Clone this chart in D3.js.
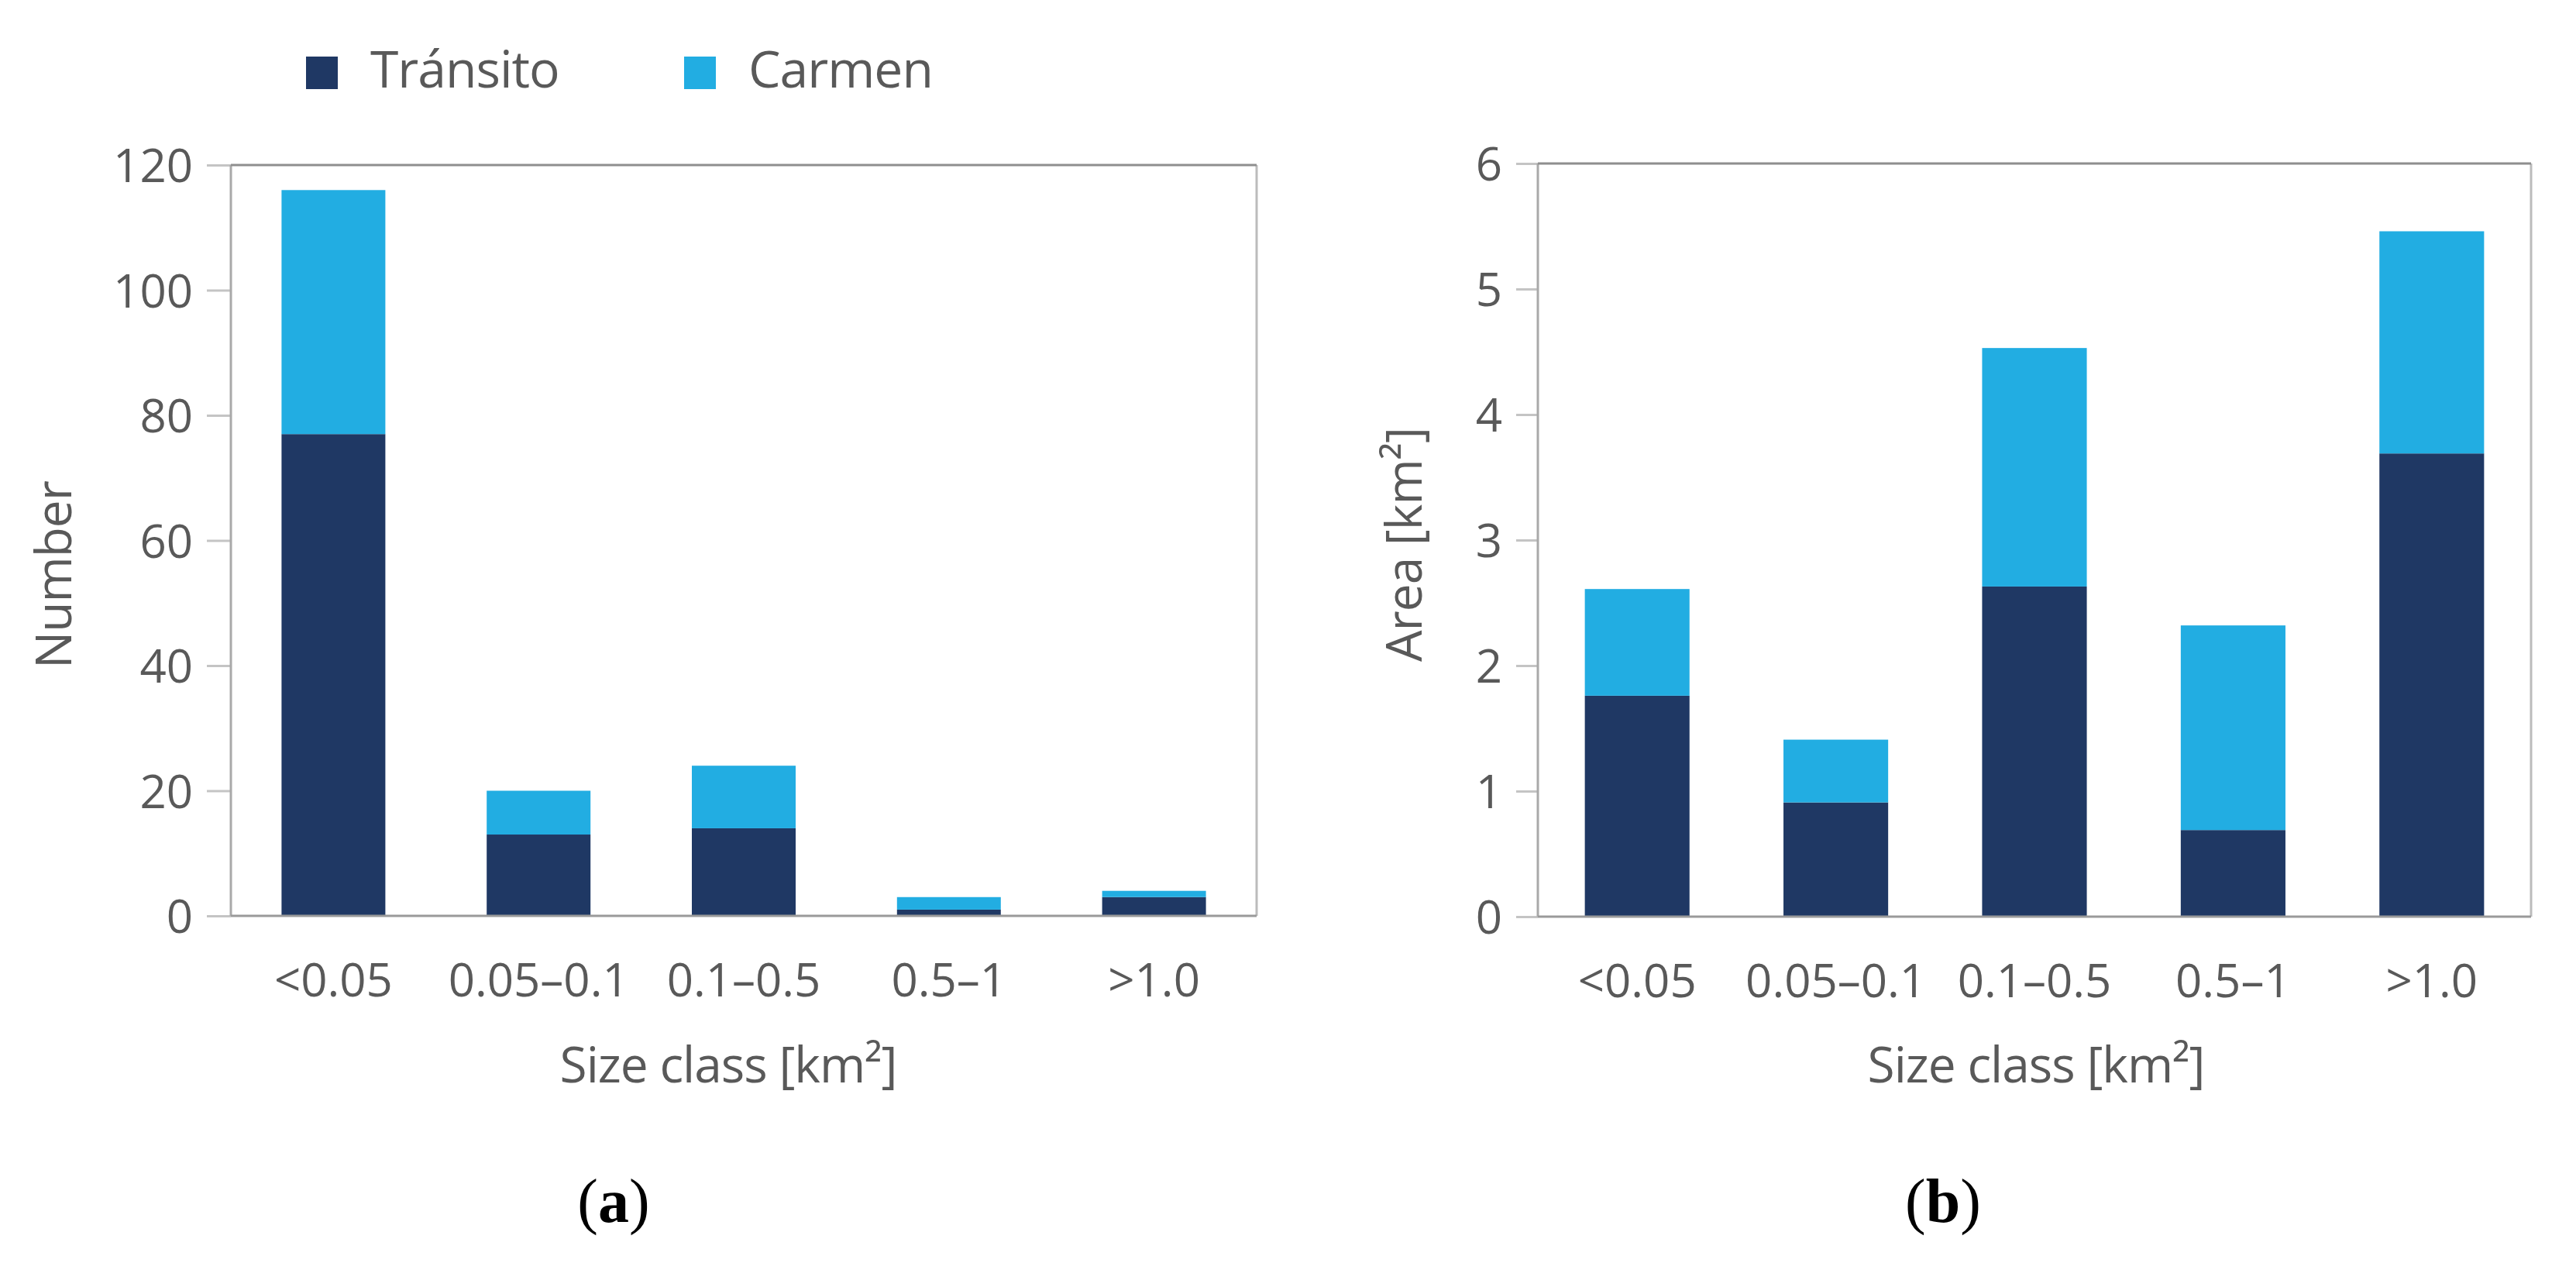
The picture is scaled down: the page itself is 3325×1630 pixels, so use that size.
<!DOCTYPE html>
<html>
<head>
<meta charset="utf-8">
<script src="https://cdn.jsdelivr.net/npm/d3@7"></script>
<style>
  body { margin: 0; background: #fff; }
  svg text { font-family: "Open Sans", sans-serif; fill: #595959; }
</style>
</head>
<body>
<div id="chart"></div>
<script>
// size classes (shared by both panels)
var classes = ["<0.05", "0.05\u20130.1", "0.1\u20130.5", "0.5\u20131", ">1.0"];
var seriesNames = ["Tránsito", "Carmen"];
var colors = ["#1f3864", "#22ade2"];

// panel (a): number of units per class
var numTransito = [77, 13, 14, 1, 3];
var numCarmen = [39, 7, 10, 2, 1];
var numTicks = [0, 20, 40, 60, 80, 100, 120];

// panel (b): area [km2] per class
var areaTransito = [1.76, 0.91, 2.63, 0.69, 3.69];
var areaCarmen = [0.85, 0.50, 1.90, 1.63, 1.77];
var areaTicks = [0, 1, 2, 3, 4, 5, 6];

var svg = d3.select("#chart").append("svg")
  .attr("width", 3325)
  .attr("height", 1630);

// draws one stacked bar panel
function panel(opt) {
  var x = d3.scaleBand()
    .domain(classes)
    .range([opt.left, opt.right])
    .paddingInner(opt.pad)
    .paddingOuter(opt.pad / 2);

  var y = d3.scaleLinear()
    .domain([0, d3.max(opt.ticks)])
    .range([opt.bottom, opt.top]);

  var rows = classes.map(function (c, i) {
    return { cls: c, a: opt.s1[i], b: opt.s2[i] };
  });
  var stacked = d3.stack().keys(["a", "b"])(rows);

  var g = svg.append("g");

  // y axis ticks + labels
  var yAxis = g.append("g")
    .attr("transform", "translate(" + opt.left + ",0)")
    .call(d3.axisLeft(y).tickValues(opt.ticks).tickFormat(d3.format("d"))
      .tickSize(opt.tickLen).tickPadding(18));
  yAxis.select(".domain").remove();
  yAxis.selectAll("line").attr("stroke", "#c4c4c4").attr("stroke-width", 3);
  yAxis.selectAll("text")
    .attr("fill", "#595959")
    .style("font-size", "60px")
    .attr("dy", "0.36em");

  // bars
  g.selectAll("g.layer")
    .data(stacked)
    .enter().append("g")
    .attr("class", "layer")
    .attr("fill", function (d, i) { return colors[i]; })
    .selectAll("rect")
    .data(function (d) { return d; })
    .enter().append("rect")
    .attr("x", function (d) { return x(d.data.cls); })
    .attr("width", x.bandwidth())
    .attr("y", function (d) { return y(d[1]); })
    .attr("height", function (d) { return y(d[0]) - y(d[1]); });

  // frame
  g.append("line").attr("x1", opt.left).attr("x2", opt.left).attr("y1", opt.top).attr("y2", opt.bottom)
    .attr("stroke", "#a9a9a9").attr("stroke-width", 3);
  g.append("line").attr("x1", opt.right).attr("x2", opt.right).attr("y1", opt.top).attr("y2", opt.bottom)
    .attr("stroke", "#bcbcbc").attr("stroke-width", 3);
  g.append("line").attr("x1", opt.left).attr("x2", opt.right).attr("y1", opt.top).attr("y2", opt.top)
    .attr("stroke", "#8e8e8e").attr("stroke-width", 3);
  g.append("line").attr("x1", opt.left).attr("x2", opt.right).attr("y1", opt.bottom).attr("y2", opt.bottom)
    .attr("stroke", "#9a9a9a").attr("stroke-width", 3);

  // x axis labels
  var xAxis = g.append("g")
    .attr("transform", "translate(0," + opt.bottom + ")")
    .call(d3.axisBottom(x).tickSize(0).tickPadding(61));
  xAxis.select(".domain").remove();
  xAxis.selectAll("text")
    .attr("fill", "#595959")
    .style("font-size", "60px");

  // axis titles
  g.append("text")
    .attr("x", opt.xTitleX)
    .attr("y", 1397)
    .attr("text-anchor", "middle")
    .style("font-size", "64px")
    .style("letter-spacing", "-1px")
    .text("Size class [km\u00b2]");

  g.append("text")
    .attr("transform", "translate(" + opt.yTitleX + "," + opt.yTitleY + ") rotate(-90)")
    .attr("text-anchor", "middle")
    .style("font-size", "64px")
    .style("letter-spacing", "-1px")
    .text(opt.yTitle);

  // panel letter
  var lab = g.append("text")
    .attr("x", opt.letterX)
    .attr("y", 1577)
    .attr("text-anchor", "middle")
    .style("font-family", "'Liberation Serif', serif")
    .style("font-size", "80px")
    .style("fill", "#000");
  lab.append("tspan").text("(");
  lab.append("tspan").style("font-weight", "bold").text(opt.letter);
  lab.append("tspan").text(")");
}

panel({
  left: 298, right: 1622, top: 213, bottom: 1182, pad: 0.494, tickLen: 31,
  ticks: numTicks, s1: numTransito, s2: numCarmen,
  yTitle: "Number", yTitleX: 92, yTitleY: 742, xTitleX: 940,
  letter: "a", letterX: 792
});

panel({
  left: 1985, right: 3267, top: 211, bottom: 1183, pad: 0.473, tickLen: 28,
  ticks: areaTicks, s1: areaTransito, s2: areaCarmen,
  yTitle: "Area [km\u00b2]", yTitleX: 1835, yTitleY: 703, xTitleX: 2628,
  letter: "b", letterX: 2508
});

// legend
var legend = svg.append("g");
var legX = [395, 883];
seriesNames.forEach(function (name, i) {
  legend.append("rect")
    .attr("x", legX[i]).attr("y", 73)
    .attr("width", 41).attr("height", 42)
    .attr("fill", colors[i]);
  legend.append("text")
    .attr("x", legX[i] + 83).attr("y", 113)
    .style("font-size", "66px")
    .style("letter-spacing", "-1px")
    .text(name);
});
</script>
</body>
</html>
